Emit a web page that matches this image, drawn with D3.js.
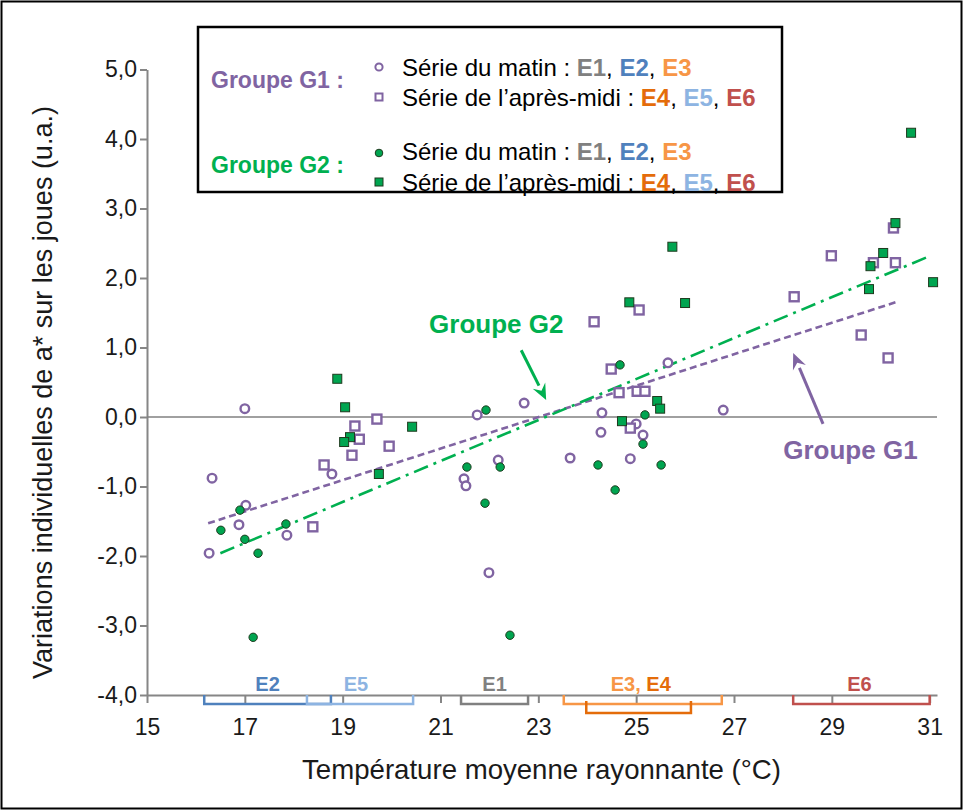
<!DOCTYPE html>
<html>
<head>
<meta charset="utf-8">
<script src="https://cdn.jsdelivr.net/npm/d3@7"></script>
<style>
  body { margin: 0; background: #fff; }
  svg { display: block; }
  text { font-family: "Liberation Sans", Arial, Helvetica, sans-serif; }
</style>
</head>
<body>
<svg id="chart" width="964" height="811"></svg>
<script>
// ---- Data: [température moyenne rayonnante (°C), variation individuelle de a*] ----
const g1Matin = [
  [17.00, 0.12], [16.33, -0.88], [17.02, -1.27], [16.88, -1.55], [17.86, -1.70],
  [16.27, -1.96], [18.78, -0.82], [21.75, 0.03], [22.71, 0.20], [21.48, -0.89],
  [21.52, -0.99], [22.18, -0.62], [21.99, -2.24], [23.65, -0.59], [24.30, 0.06],
  [24.28, -0.22], [25.00, -0.10], [25.14, -0.26], [24.88, -0.60], [25.65, 0.78],
  [26.78, 0.10]
];
const g1ApresMidi = [
  [19.25, -0.13], [19.34, -0.32], [19.19, -0.55], [18.62, -0.69], [18.39, -1.58],
  [19.70, -0.03], [19.95, -0.42], [24.14, 1.37], [24.49, 0.69], [24.65, 0.35],
  [25.02, 0.37], [25.18, 0.37], [25.06, 1.54], [24.88, -0.16], [28.23, 1.73],
  [28.99, 2.32], [29.60, 1.18], [30.15, 0.85], [29.85, 2.22], [30.30, 2.22],
  [30.26, 2.72]
];
const g2Matin = [
  [16.90, -1.34], [16.51, -1.63], [17.00, -1.76], [17.27, -1.96], [17.17, -3.17],
  [17.84, -1.54], [21.93, 0.10], [21.54, -0.72], [22.22, -0.72], [21.91, -1.24],
  [22.42, -3.14], [24.67, 0.75], [25.18, 0.03], [25.14, -0.39], [24.22, -0.69],
  [25.51, -0.69], [24.57, -1.05]
];
const g2ApresMidi = [
  [18.89, 0.55], [19.05, 0.14], [19.15, -0.29], [19.03, -0.36], [19.74, -0.82],
  [20.42, -0.14], [24.71, -0.06], [24.86, 1.65], [26.00, 1.64], [25.74, 2.45],
  [25.43, 0.23], [25.49, 0.12], [30.05, 2.36], [29.79, 2.17], [29.76, 1.84],
  [30.30, 2.79], [30.62, 4.09], [31.07, 1.94]
];

// Droites de tendance (extrémités)
const g1Tendance = [[16.25, -1.53], [30.30, 1.65]];
const g2Tendance = [[16.50, -1.96], [30.95, 2.30]];

// Plages de température des essais
const essais = ["E2", "E5", "E1", "E3", "E4", "E6"];
const essaisPlages = [[16.17, 18.76], [18.27, 20.44], [21.42, 22.79], [23.52, 26.75], [23.98, 26.12], [28.21, 31.0]];

// Graduations
const xTicks = [15, 17, 19, 21, 23, 25, 27, 29, 31];
const yTicks = [-4, -3, -2, -1, 0, 1, 2, 3, 4, 5];

// ---- Styles ----
const PURPLE = "#8064a2";
const GREEN = "#00b050";
const GREEN_FILL = "#00a550";
const essaiColors = { E1: "#808080", E2: "#4f81bd", E3: "#f79646", E4: "#e46c0a", E5: "#8db4e2", E6: "#c0504d" };
const AXIS = "#868686";

const svg = d3.select("#chart");

// Cadre extérieur
svg.append("rect").attr("x", 1.5).attr("y", 1.5).attr("width", 960).attr("height", 807)
  .attr("fill", "#fff").attr("stroke", "#000").attr("stroke-width", 2);

const plot = { left: 147, right: 937, top: 69.5, bottom: 695 };
const x = d3.scaleLinear().domain([15, 31.15]).range([plot.left, plot.right]);
const y = d3.scaleLinear().domain([-4, 5]).range([plot.bottom, plot.top]);

const fmt = d => (d < 0 ? "-" : "") + Math.abs(d).toFixed(1).replace(".", ",");

// Axe Y
const yAxis = svg.append("g").attr("transform", `translate(${plot.left},0)`)
  .call(d3.axisLeft(y).tickValues(yTicks).tickFormat(fmt).tickSize(7).tickSizeOuter(0).tickPadding(3));
yAxis.select(".domain").attr("stroke", AXIS).attr("stroke-width", 2);
yAxis.selectAll(".tick line").attr("stroke", AXIS).attr("stroke-width", 2);
yAxis.selectAll(".tick text").attr("font-size", 23).attr("fill", "#1a1a1a")
  .attr("font-family", "'Liberation Sans', Arial, sans-serif");

// Ligne zéro
svg.append("line").attr("x1", plot.left).attr("x2", plot.right)
  .attr("y1", y(0)).attr("y2", y(0)).attr("stroke", "#808080").attr("stroke-width", 1.5);

// Axe X
const xAxis = svg.append("g").attr("transform", `translate(0,${plot.bottom})`)
  .call(d3.axisBottom(x).tickValues(xTicks).tickFormat(d3.format("d")).tickSize(8).tickSizeOuter(0).tickPadding(16));
xAxis.select(".domain").attr("stroke", AXIS).attr("stroke-width", 2);
xAxis.selectAll(".tick line").attr("stroke", AXIS).attr("stroke-width", 2);
xAxis.selectAll(".tick text").attr("font-size", 23).attr("fill", "#1a1a1a")
  .attr("font-family", "'Liberation Sans', Arial, sans-serif");

// Titres des axes
svg.append("text").attr("x", (300 + 783) / 2).attr("y", 779).attr("text-anchor", "middle")
  .attr("font-size", 27.6).attr("fill", "#1a1a1a")
  .text("Température moyenne rayonnante (°C)");
svg.append("text").attr("transform", `translate(52,${(85 + 700) / 2}) rotate(-90)`)
  .attr("text-anchor", "middle").attr("font-size", 27).attr("fill", "#1a1a1a")
  .text("Variations individuelles de a* sur les joues (u.a.)");

// Plages des essais sous l'axe
const brackets = svg.append("g");
essais.forEach((name, i) => {
  const [a, b] = essaisPlages[i];
  const deep = name === "E4";
  const top = deep ? plot.bottom + 6 : plot.bottom;
  const bot = deep ? plot.bottom + 18 : plot.bottom + 9;
  brackets.append("path")
    .attr("d", `M${x(a)},${top}V${bot}H${x(b)}V${top}`)
    .attr("fill", "none").attr("stroke", essaiColors[name]).attr("stroke-width", 2.5);
});
const bracketLabel = (cx, parts) => {
  const t = svg.append("text").attr("x", cx).attr("y", 691).attr("text-anchor", "middle")
    .attr("font-size", 20).attr("font-weight", "bold");
  parts.forEach(([s, c]) => t.append("tspan").attr("fill", c).text(s));
};
bracketLabel(x((essaisPlages[0][0] + essaisPlages[0][1]) / 2), [["E2", essaiColors.E2]]);
bracketLabel(x((essaisPlages[1][0] + essaisPlages[1][1]) / 2) - 4, [["E5", essaiColors.E5]]);
bracketLabel(x((essaisPlages[2][0] + essaisPlages[2][1]) / 2), [["E1", essaiColors.E1]]);
bracketLabel(x((essaisPlages[3][0] + essaisPlages[3][1]) / 2) - 2, [["E3, ", essaiColors.E3], ["E4", essaiColors.E4]]);
bracketLabel(x((essaisPlages[5][0] + essaisPlages[5][1]) / 2) - 2, [["E6", essaiColors.E6]]);

// Droites de tendance
const line = d3.line().x(d => x(d[0])).y(d => y(d[1]));
svg.append("path").datum(g1Tendance).attr("d", line)
  .attr("fill", "none").attr("stroke", PURPLE).attr("stroke-width", 2.6).attr("stroke-dasharray", "7,4");
svg.append("path").datum(g2Tendance).attr("d", line)
  .attr("fill", "none").attr("stroke", GREEN).attr("stroke-width", 2.6).attr("stroke-dasharray", "15,6,3,6");

// Points
const pts = svg.append("g");
const drawCircles = (data, open) => pts.selectAll(null).data(data).join("circle")
  .attr("cx", d => x(d[0])).attr("cy", d => y(d[1]))
  .attr("r", open ? 4.3 : 4.2)
  .attr("fill", open ? "#fff" : GREEN_FILL)
  .attr("stroke", open ? PURPLE : "#1e3a1e")
  .attr("stroke-width", open ? 2.4 : 1);
const drawSquares = (data, open) => {
  const s = 9;
  pts.selectAll(null).data(data).join("rect")
    .attr("x", d => x(d[0]) - s / 2).attr("y", d => y(d[1]) - s / 2)
    .attr("width", s).attr("height", s)
    .attr("fill", open ? "#fff" : GREEN_FILL)
    .attr("stroke", open ? PURPLE : "#1e3a1e")
    .attr("stroke-width", open ? 2.4 : 1);
};
drawCircles(g1Matin, true);
drawSquares(g1ApresMidi, true);
drawCircles(g2Matin, false);
drawSquares(g2ApresMidi, false);

// Annotations fléchées
const arrow = (from, to, color) => {
  const x1 = x(from[0]), y1 = y(from[1]), x2 = x(to[0]), y2 = y(to[1]);
  const ang = Math.atan2(y2 - y1, x2 - x1);
  const L = 16, W = 7;
  const bx = x2 - L * Math.cos(ang), by = y2 - L * Math.sin(ang);
  svg.append("line").attr("x1", x1).attr("y1", y1).attr("x2", bx).attr("y2", by)
    .attr("stroke", color).attr("stroke-width", 3);
  const px = -Math.sin(ang), py = Math.cos(ang);
  svg.append("path")
    .attr("d", `M${x2},${y2}L${bx + px * W},${by + py * W}L${bx + 0.35 * L * Math.cos(ang)},${by + 0.35 * L * Math.sin(ang)}L${bx - px * W},${by - py * W}Z`)
    .attr("fill", color);
};
arrow([22.65, 0.96], [23.16, 0.245], GREEN);
arrow([28.82, -0.10], [28.21, 0.92], PURPLE);
svg.append("text").attr("x", x(22.14)).attr("y", y(1.34) + 9).attr("text-anchor", "middle")
  .attr("font-size", 26).attr("font-weight", "bold").attr("fill", GREEN).text("Groupe G2");
svg.append("text").attr("x", x(29.38)).attr("y", y(-0.47) + 9).attr("text-anchor", "middle")
  .attr("font-size", 26).attr("font-weight", "bold").attr("fill", PURPLE).text("Groupe G1");

// Légende
const lg = svg.append("g");
lg.append("rect").attr("x", 198).attr("y", 27).attr("width", 584).attr("height", 165)
  .attr("fill", "#fff").attr("stroke", "#000").attr("stroke-width", 2.5);
const groupLabel = (ty, txt, color) => lg.append("text").attr("x", 211).attr("y", ty)
  .attr("dominant-baseline", "central").attr("font-size", 23).attr("font-weight", "bold")
  .attr("fill", color).text(txt);
groupLabel(80, "Groupe G1 :", PURPLE);
groupLabel(165, "Groupe G2 :", GREEN);

const rowMatin = [["Série du matin : ", "#000", false], ["E1", essaiColors.E1, true], [", ", "#000", false],
  ["E2", essaiColors.E2, true], [", ", "#000", false], ["E3", essaiColors.E3, true]];
const rowAprem = [["Série de l’après-midi : ", "#000", false], ["E4", essaiColors.E4, true], [", ", "#000", false],
  ["E5", essaiColors.E5, true], [", ", "#000", false], ["E6", essaiColors.E6, true]];
const legendRow = (ty, parts) => {
  const t = lg.append("text").attr("x", 402).attr("y", ty).attr("dominant-baseline", "central")
    .attr("font-size", 24).attr("xml:space", "preserve");
  parts.forEach(([s, c, b]) => t.append("tspan").attr("fill", c).attr("font-weight", b ? "bold" : "normal").text(s));
};
legendRow(67, rowMatin);
legendRow(97, rowAprem);
legendRow(151, rowMatin);
legendRow(182, rowAprem);

// Symboles de légende
lg.append("circle").attr("cx", 379).attr("cy", 67).attr("r", 3.6).attr("fill", "#fff").attr("stroke", PURPLE).attr("stroke-width", 2);
lg.append("rect").attr("x", 375.5).attr("y", 93.5).attr("width", 7).attr("height", 7).attr("fill", "#fff").attr("stroke", PURPLE).attr("stroke-width", 2);
lg.append("circle").attr("cx", 379).attr("cy", 153).attr("r", 3.8).attr("fill", GREEN_FILL).attr("stroke", "#1e3a1e").attr("stroke-width", 1);
lg.append("rect").attr("x", 375).attr("y", 178).attr("width", 8).attr("height", 8).attr("fill", GREEN_FILL).attr("stroke", "#1e3a1e").attr("stroke-width", 1);
</script>
</body>
</html>
